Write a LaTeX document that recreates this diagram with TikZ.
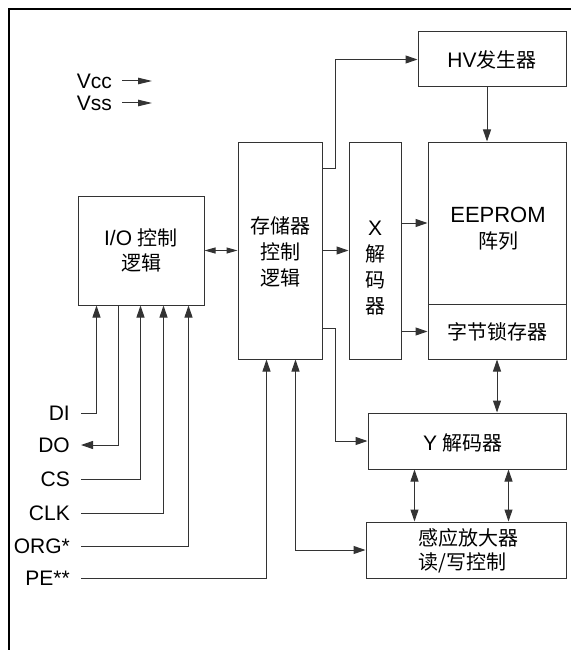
\documentclass[tikz,border=0pt]{standalone}
\usepackage{fontspec}
\setmainfont{Liberation Sans}
\newfontfamily\cjk{Noto Sans CJK SC}
\newcommand\zh[1]{{\cjk\fontsize{20}{26}\selectfont #1}}
\usetikzlibrary{arrows.meta}
\begin{document}
\begin{tikzpicture}[x=1pt,y=-1pt,
  font=\fontsize{21}{26}\selectfont,
  box/.style={draw=black!80, line width=1pt, inner sep=0pt, align=center},
  txt/.style={inner sep=0pt, align=center},
  pinlabel/.style={anchor=east, inner xsep=11pt, inner ysep=0pt},
  conn/.style={draw=black!80, line width=1pt},
  arr/.style={conn, -{Triangle[length=12pt,width=8pt]}},
  varr/.style={conn, -{Triangle[length=14pt,width=6.5pt]}},
  darr/.style={conn, {Triangle[length=12pt,width=8pt]}-{Triangle[length=12pt,width=8pt]}},
  sdarr/.style={conn, {Triangle[length=11pt,width=6pt]}-{Triangle[length=11pt,width=6pt]}}
]
\useasboundingbox (0,0) rectangle (571,650);
% frame
\draw[line width=2.2pt, black] (9,650) -- (9,9) -- (571,9);

% boxes
\node[box, minimum width=126pt, minimum height=109pt] (io) at (141,250.5) {I/O \zh{控制}\\[-1pt]\zh{逻辑}};
\node[box, minimum width=84pt, minimum height=217pt] (mem) at (280,250.5) {};
\node[txt] (memt) at (280,252) {\zh{存储器}\\\zh{控制}\\\zh{逻辑}};
\node[box, minimum width=52pt, minimum height=217pt] (xdec) at (375,250.5) {};
\node[txt] (xdect) at (375,268) {X\\\zh{解}\\\zh{码}\\\zh{器}};
\node[box, minimum width=138pt, minimum height=162pt] (eeprom) at (497,223) {};
\node[txt] (eepromt) at (498,229) {{\fontsize{22}{26}\selectfont EEPROM}\\\zh{阵列}};
\node[box, minimum width=138pt, minimum height=55pt] (latch) at (497,331.5) {\zh{字节锁存器}};
\node[box, minimum width=148pt, minimum height=55pt] (hv) at (492,59.5) {HV\zh{发生器}};
\node[box, minimum width=198pt, minimum height=56pt] (ydec) at (467,441) {};
\node[txt] (ydect) at (463,443) {Y \zh{解码器}};
\node[box, minimum width=200pt, minimum height=56pt] (sense) at (466,550) {};
\node[txt, align=left, anchor=west] (senset) at (418,551) {\zh{感应放大器}\\[-2pt]\zh{读/写控制}};

% supply labels
\node[pinlabel, inner xsep=10pt] (vcc) at (122,81) {Vcc};
\node[pinlabel, inner xsep=10pt] (vss) at (122,103) {Vss};
\coordinate (vccend) at (152,81);
\coordinate (vssend) at (152,103);
\draw[varr] (vcc.east) -- (vccend);
\draw[varr] (vss.east) -- (vssend);

% pin labels
\node[pinlabel] (di) at (81,413) {DI};
\node[pinlabel] (do) at (81,445) {DO};
\node[pinlabel] (cs) at (81,479) {CS};
\node[pinlabel] (clk) at (81,513) {CLK};
\node[pinlabel] (org) at (81,546) {ORG*};
\node[pinlabel] (pe) at (81,578) {PE**};

% pin connectors
\draw[arr] (di.east) -| ([xshift=19pt]io.south west);
\draw[arr] ([xshift=41pt]io.south west) |- (do.east);
\draw[arr] (cs.east) -| ([xshift=63pt]io.south west);
\draw[arr] (clk.east) -| ([xshift=86pt]io.south west);
\draw[arr] (org.east) -| ([xshift=111pt]io.south west);
\draw[arr] (pe.east) -| ([xshift=29pt]mem.south west);

% internal connectors
\draw[sdarr] (io.east) -- (mem.west);
\draw[darr] ([xshift=58pt]mem.south west) |- (sense.west);
\draw[arr] ([yshift=-27pt]mem.north east) -- ++(13,0) |- (hv.west);
\draw[arr] ([yshift=31pt]mem.south east) -- ++(13,0) |- (ydec.west);
\draw[arr] (mem.east) -- (xdec.west);
\draw[arr] (xdec.east |- eeprom.west) -- (eeprom.west);
\draw[arr] (xdec.east |- latch.west) -- (latch.west);
\draw[arr] ([xshift=-5pt]hv.south) -- ([xshift=-5pt]hv.south |- eeprom.north);
\draw[darr] (latch.south) -- (latch.south |- ydec.north);
\draw[darr] ([xshift=47pt]ydec.south west) -- ([xshift=47pt]ydec.south west |- sense.north);
\draw[darr] ([xshift=141pt]ydec.south west) -- ([xshift=141pt]ydec.south west |- sense.north);
\end{tikzpicture}
\end{document}
